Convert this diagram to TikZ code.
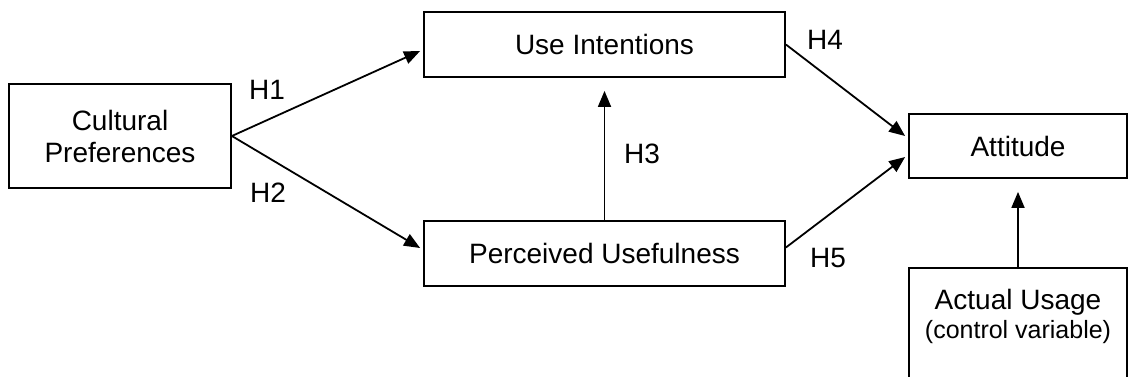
\documentclass[tikz,border=0pt]{standalone}
\usepackage{fontspec}
\setmainfont{Liberation Sans}
\usetikzlibrary{arrows.meta}

\begin{document}
\begin{tikzpicture}[x=0.5pt,y=-0.5pt,font=\fontsize{14}{16}\selectfont]
	 \tikzstyle{box}=[draw,line width=0.9pt,rectangle,align=center,inner sep=0pt]
	 \tikzstyle{edge} = [draw,line width=0.9pt,-{Triangle[length=8pt,width=6.5pt]},black]
	 \clip (0,0) rectangle (1128,376);
	 \node[box,minimum width=111pt,minimum height=52pt] (cp) at (120,136) {Cultural\\Preferences};
	 \node[box,minimum width=180.5pt,minimum height=32.5pt] (ui) at (604.5,44.5) {Use Intentions};
	 \node[box,minimum width=180.5pt,minimum height=32.5pt] (pu) at (604.5,253.5) {Perceived Usefulness};
	 \node[box,minimum width=109pt,minimum height=32pt] (att) at (1018,146) {Attitude};
	 \node[box,minimum width=109pt,minimum height=62pt] (au) at (1018,330) {Actual Usage\\[-1.5pt]{\fontsize{12.5}{14.5}\selectfont (control variable)}\\ ~};

	 \draw[edge] (cp.east) -- ([xshift=-1.5pt,yshift=-3.25pt]ui.west);
	 \draw[edge] (cp.east) -- ([xshift=-1.5pt,yshift=2.75pt]pu.west);
	 \draw[edge] (pu.north) -- ([yshift=-6.5pt]ui.south);
	 \draw[edge] (ui.east) -- ([xshift=-1.5pt,yshift=5pt]att.west);
	 \draw[edge] ([yshift=3pt]pu.east) -- ([xshift=-1.5pt,yshift=-5.5pt]att.west);
	 \draw[edge] (au.north) -- ([yshift=-6.5pt]att.south);

	 \node (h1) at (267,90) {H1};
	 \node (h2) at (268,193) {H2};
	 \node (h3) at (642,154) {H3};
	 \node (h4) at (825,40) {H4};
	 \node (h5) at (828,258) {H5};
 \end{tikzpicture}
\end{document}
